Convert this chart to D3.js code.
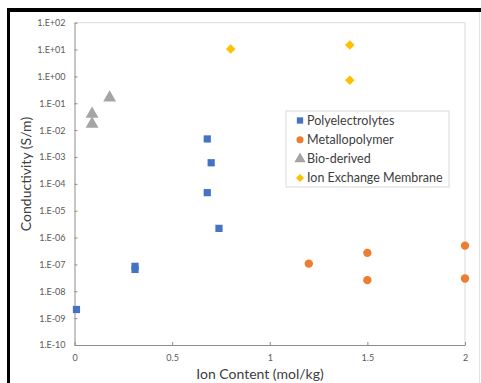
<!DOCTYPE html>
<html>
<head>
<meta charset="utf-8">
<script src="https://cdn.jsdelivr.net/npm/d3@7"></script>
<style>
  body { margin: 0; background: #fff; }
  svg { display: block; font-family: Lato, "Open Sans", sans-serif; }
</style>
</head>
<body>
<div id="chart"></div>
<script>
// series values
var seriesNames = ["Polyelectrolytes", "Metallopolymer", "Bio-derived", "Ion Exchange Membrane"];
var polyX = [0.01, 0.31, 0.31, 0.68, 0.70, 0.68, 0.74];
var polyY = [2.1e-9, 8.5e-8, 6.5e-8, 4.7e-3, 6.1e-4, 4.7e-5, 2.2e-6];
var metalX = [1.2, 1.5, 1.5, 2.0, 2.0];
var metalY = [1.07e-7, 2.7e-7, 2.6e-8, 5e-7, 3e-8];
var bioX = [0.18, 0.09, 0.09];
var bioY = [0.16, 0.04, 0.017];
var iemX = [0.80, 1.41, 1.41];
var iemY = [10.5, 14.8, 0.72];
var xTicks = [0, 0.5, 1, 1.5, 2];
var yTicks = [1e2, 1e1, 1e0, 1e-1, 1e-2, 1e-3, 1e-4, 1e-5, 1e-6, 1e-7, 1e-8, 1e-9, 1e-10];

var W = 481, H = 383;
var svg = d3.select("#chart").append("svg")
    .attr("width", W)
    .attr("height", H);

// black frame edges of the screenshot
svg.append("rect").attr("x", 7).attr("y", 8).attr("width", W - 7).attr("height", 4).attr("fill", "#000");
svg.append("rect").attr("x", 7).attr("y", 8).attr("width", 3).attr("height", H - 8).attr("fill", "#000");
svg.append("line").attr("x1", 479.5).attr("x2", 479.5).attr("y1", 12).attr("y2", H)
    .attr("stroke", "#e4e4e4");

var pLeft = 74.5, pRight = 465, pTop = 22.7, pBottom = 345;

var x = d3.scaleLinear().domain([0, 2]).range([pLeft, pRight]);
var y = d3.scaleLog().domain([1e-10, 1e2]).range([pBottom, pTop]);

// plot frame (light top/right)
svg.append("path")
    .attr("d", "M" + pLeft + "," + pTop + "H" + pRight + "V" + pBottom)
    .attr("fill", "none")
    .attr("stroke", "#d9d9d9");

function fmtExp(d) {
  var e = Math.round(Math.log10(d));
  var s = Math.abs(e) < 10 ? "0" + Math.abs(e) : "" + Math.abs(e);
  return "1.E" + (e < 0 ? "-" : "+") + s;
}

var yAxis = svg.append("g")
    .attr("transform", "translate(" + pLeft + ",0)")
    .call(d3.axisLeft(y).tickValues(yTicks).tickFormat(fmtExp).tickSizeInner(-3).tickSizeOuter(0).tickPadding(9));
var xAxis = svg.append("g")
    .attr("transform", "translate(0," + pBottom + ")")
    .call(d3.axisBottom(x).tickValues(xTicks).tickFormat(d3.format("")).tickSizeInner(-3).tickSizeOuter(0).tickPadding(10));

[xAxis, yAxis].forEach(function(a) {
  a.select(".domain").attr("stroke", "#8c8c8c");
  a.selectAll(".tick line").attr("stroke", "#8c8c8c");
  a.selectAll(".tick text").attr("fill", "#595959").style("font-size", "9px")
      .style("font-family", "Lato, sans-serif");
});

// axis titles
svg.append("text")
    .attr("x", 260).attr("y", 379)
    .attr("text-anchor", "middle")
    .attr("fill", "#404040")
    .style("font-size", "14px")
    .text("Ion Content (mol/kg)");
svg.append("text")
    .attr("transform", "translate(31,174) rotate(-90)")
    .attr("text-anchor", "middle")
    .attr("fill", "#404040")
    .style("font-size", "14px")
    .text("Conductivity (S/m)");

var colors = ["#4472C4", "#ED7D31", "#A5A5A5", "#FFC000"];
var shapes = [d3.symbolSquare, d3.symbolCircle, d3.symbolTriangle, d3.symbolSquare];
var sizes = [52, 55, 72, 46];
var rot = [0, 0, 0, 45];

var series = [
  d3.zip(polyX, polyY),
  d3.zip(metalX, metalY),
  d3.zip(bioX, bioY),
  d3.zip(iemX, iemY)
];

series.forEach(function(pts, i) {
  svg.append("g").selectAll("path")
      .data(pts)
      .enter().append("path")
      .attr("d", d3.symbol().type(shapes[i]).size(sizes[i]))
      .attr("transform", function(d) { return "translate(" + x(d[0]) + "," + y(d[1]) + ") rotate(" + rot[i] + ")"; })
      .attr("fill", colors[i]);
});

// legend
var lg = svg.append("g").attr("transform", "translate(286,111)");
lg.append("rect")
    .attr("width", 163).attr("height", 76)
    .attr("fill", "#fff")
    .attr("stroke", "#d9d9d9");
seriesNames.forEach(function(name, i) {
  var row = lg.append("g").attr("transform", "translate(14," + (9.5 + i * 19.2) + ")");
  row.append("path")
      .attr("d", d3.symbol().type(shapes[i]).size(i == 2 ? 55 : i == 3 ? 32 : 40))
      .attr("transform", "rotate(" + rot[i] + ")")
      .attr("fill", colors[i]);
  row.append("text")
      .attr("x", 7).attr("dy", "0.35em")
      .attr("fill", "#404040")
      .style("font-size", "12.5px")
      .text(name);
});
</script>
</body>
</html>
